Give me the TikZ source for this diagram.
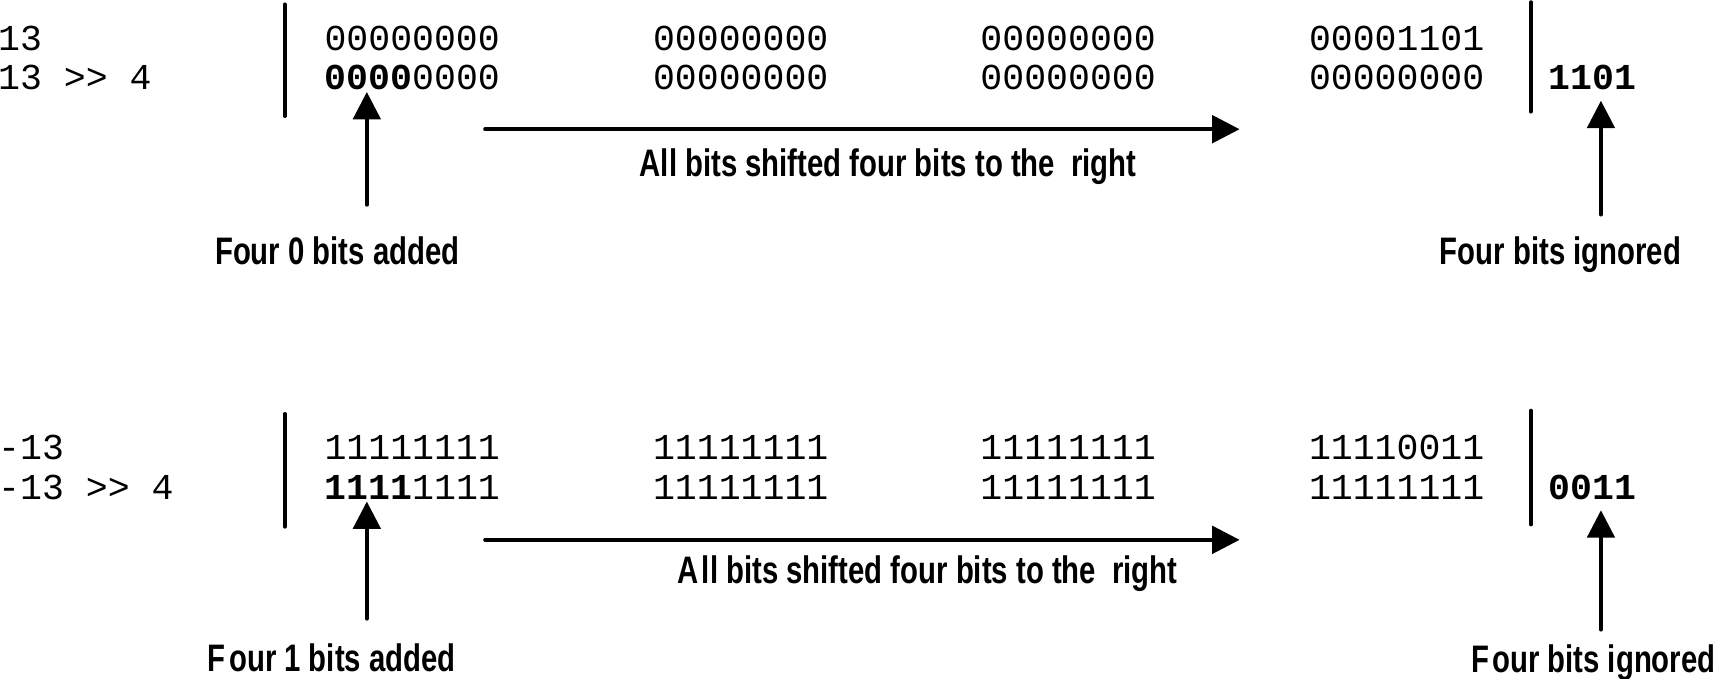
\documentclass[tikz,border=0pt]{standalone}
\usepackage{fontspec}
\setmonofont{Liberation Mono}
\newfontfamily\lblfont[FakeStretch=0.765]{Liberation Sans}
\usetikzlibrary{arrows.meta}
\begin{document}
\begin{tikzpicture}[x=0.5pt,y=-0.5pt,
  bits/.style={anchor=base west,inner sep=0pt,font=\fontsize{16.67pt}{18pt}\selectfont\ttfamily},
  lbl/.style={anchor=base,inner sep=0pt,font=\fontsize{17.5pt}{20pt}\selectfont\lblfont\bfseries},
  bar/.style={line width=1.75pt,line cap=round},
  arr/.style={line width=1.75pt,line cap=round,-{Triangle[length=12.5pt,width=12.5pt]}}]
\useasboundingbox (0,0) rectangle (1568,620);

% ---------- top panel ----------
\node[bits] (t1) at (-2,46) {13};
\node[bits] (t2) at (-2,82) {13 >{}> 4};
\coordinate (tb1a) at (260,4);
\coordinate (tb1b) at (260,106);
\draw[bar] (tb1a) -- (tb1b);
\node[bits] (ta1) at (296,46) {00000000};
\node[bits] (ta2) at (596,46) {00000000};
\node[bits] (ta3) at (895,46) {00000000};
\node[bits] (ta4) at (1195,46) {00001101};
\node[bits] (tr1) at (296,82) {\textbf{0000}0000};
\node[bits] (tr2) at (596,82) {00000000};
\node[bits] (tr3) at (895,82) {00000000};
\node[bits] (tr4) at (1195,82) {00000000};
\coordinate (tb2a) at (1398,2);
\coordinate (tb2b) at (1398,102);
\draw[bar] (tb2a) -- (tb2b);
\node[bits] (tlost) at (1414,82) {\textbf{1101}};
\coordinate (tu1s) at (335,187);
\coordinate (tu1e) at (335,84);
\draw[arr] (tu1s) -- (tu1e);
\coordinate (ths) at (443,118);
\coordinate (the) at (1132,118);
\draw[arr] (ths) -- (the);
\node[lbl] (tshift) at (811,161) {All bits shifted four bits to the\ \ right};
\node[lbl] (tadd) at (308,242) {Four 0 bits added};
\coordinate (tu2s) at (1462,196);
\coordinate (tu2e) at (1462,92);
\draw[arr] (tu2s) -- (tu2e);
\node[lbl] (tign) at (1425,242) {Four bits ignored};

% ---------- bottom panel ----------
\node[bits] (b1) at (-2,420) {-13};
\node[bits] (b2) at (-2,456) {-13 >{}> 4};
\coordinate (bb1a) at (260,378);
\coordinate (bb1b) at (260,481);
\draw[bar] (bb1a) -- (bb1b);
\node[bits] (ba1) at (296,420) {11111111};
\node[bits] (ba2) at (596,420) {11111111};
\node[bits] (ba3) at (895,420) {11111111};
\node[bits] (ba4) at (1195,420) {11110011};
\node[bits] (br1) at (296,456) {\textbf{1111}1111};
\node[bits] (br2) at (596,456) {11111111};
\node[bits] (br3) at (895,456) {11111111};
\node[bits] (br4) at (1195,456) {11111111};
\coordinate (bb2a) at (1398,375);
\coordinate (bb2b) at (1398,479);
\draw[bar] (bb2a) -- (bb2b);
\node[bits] (blost) at (1414,456) {\textbf{0011}};
\coordinate (bu1s) at (335,565);
\coordinate (bu1e) at (335,458);
\draw[arr] (bu1s) -- (bu1e);
\coordinate (bhs) at (443,493);
\coordinate (bhe) at (1132,493);
\draw[arr] (bhs) -- (bhe);
\node[lbl] (bshift) at (847,533) {A\kern1.5pt ll bits shifted four bits to the\ \ right};
\node[lbl] (badd) at (303,613) {F\kern1.5pt our 1 bits added};
\coordinate (bu2s) at (1462,575);
\coordinate (bu2e) at (1462,466);
\draw[arr] (bu2s) -- (bu2e);
\node[lbl] (bign) at (1455,614) {F\kern1.5pt our bits ignored};
\end{tikzpicture}
\end{document}
